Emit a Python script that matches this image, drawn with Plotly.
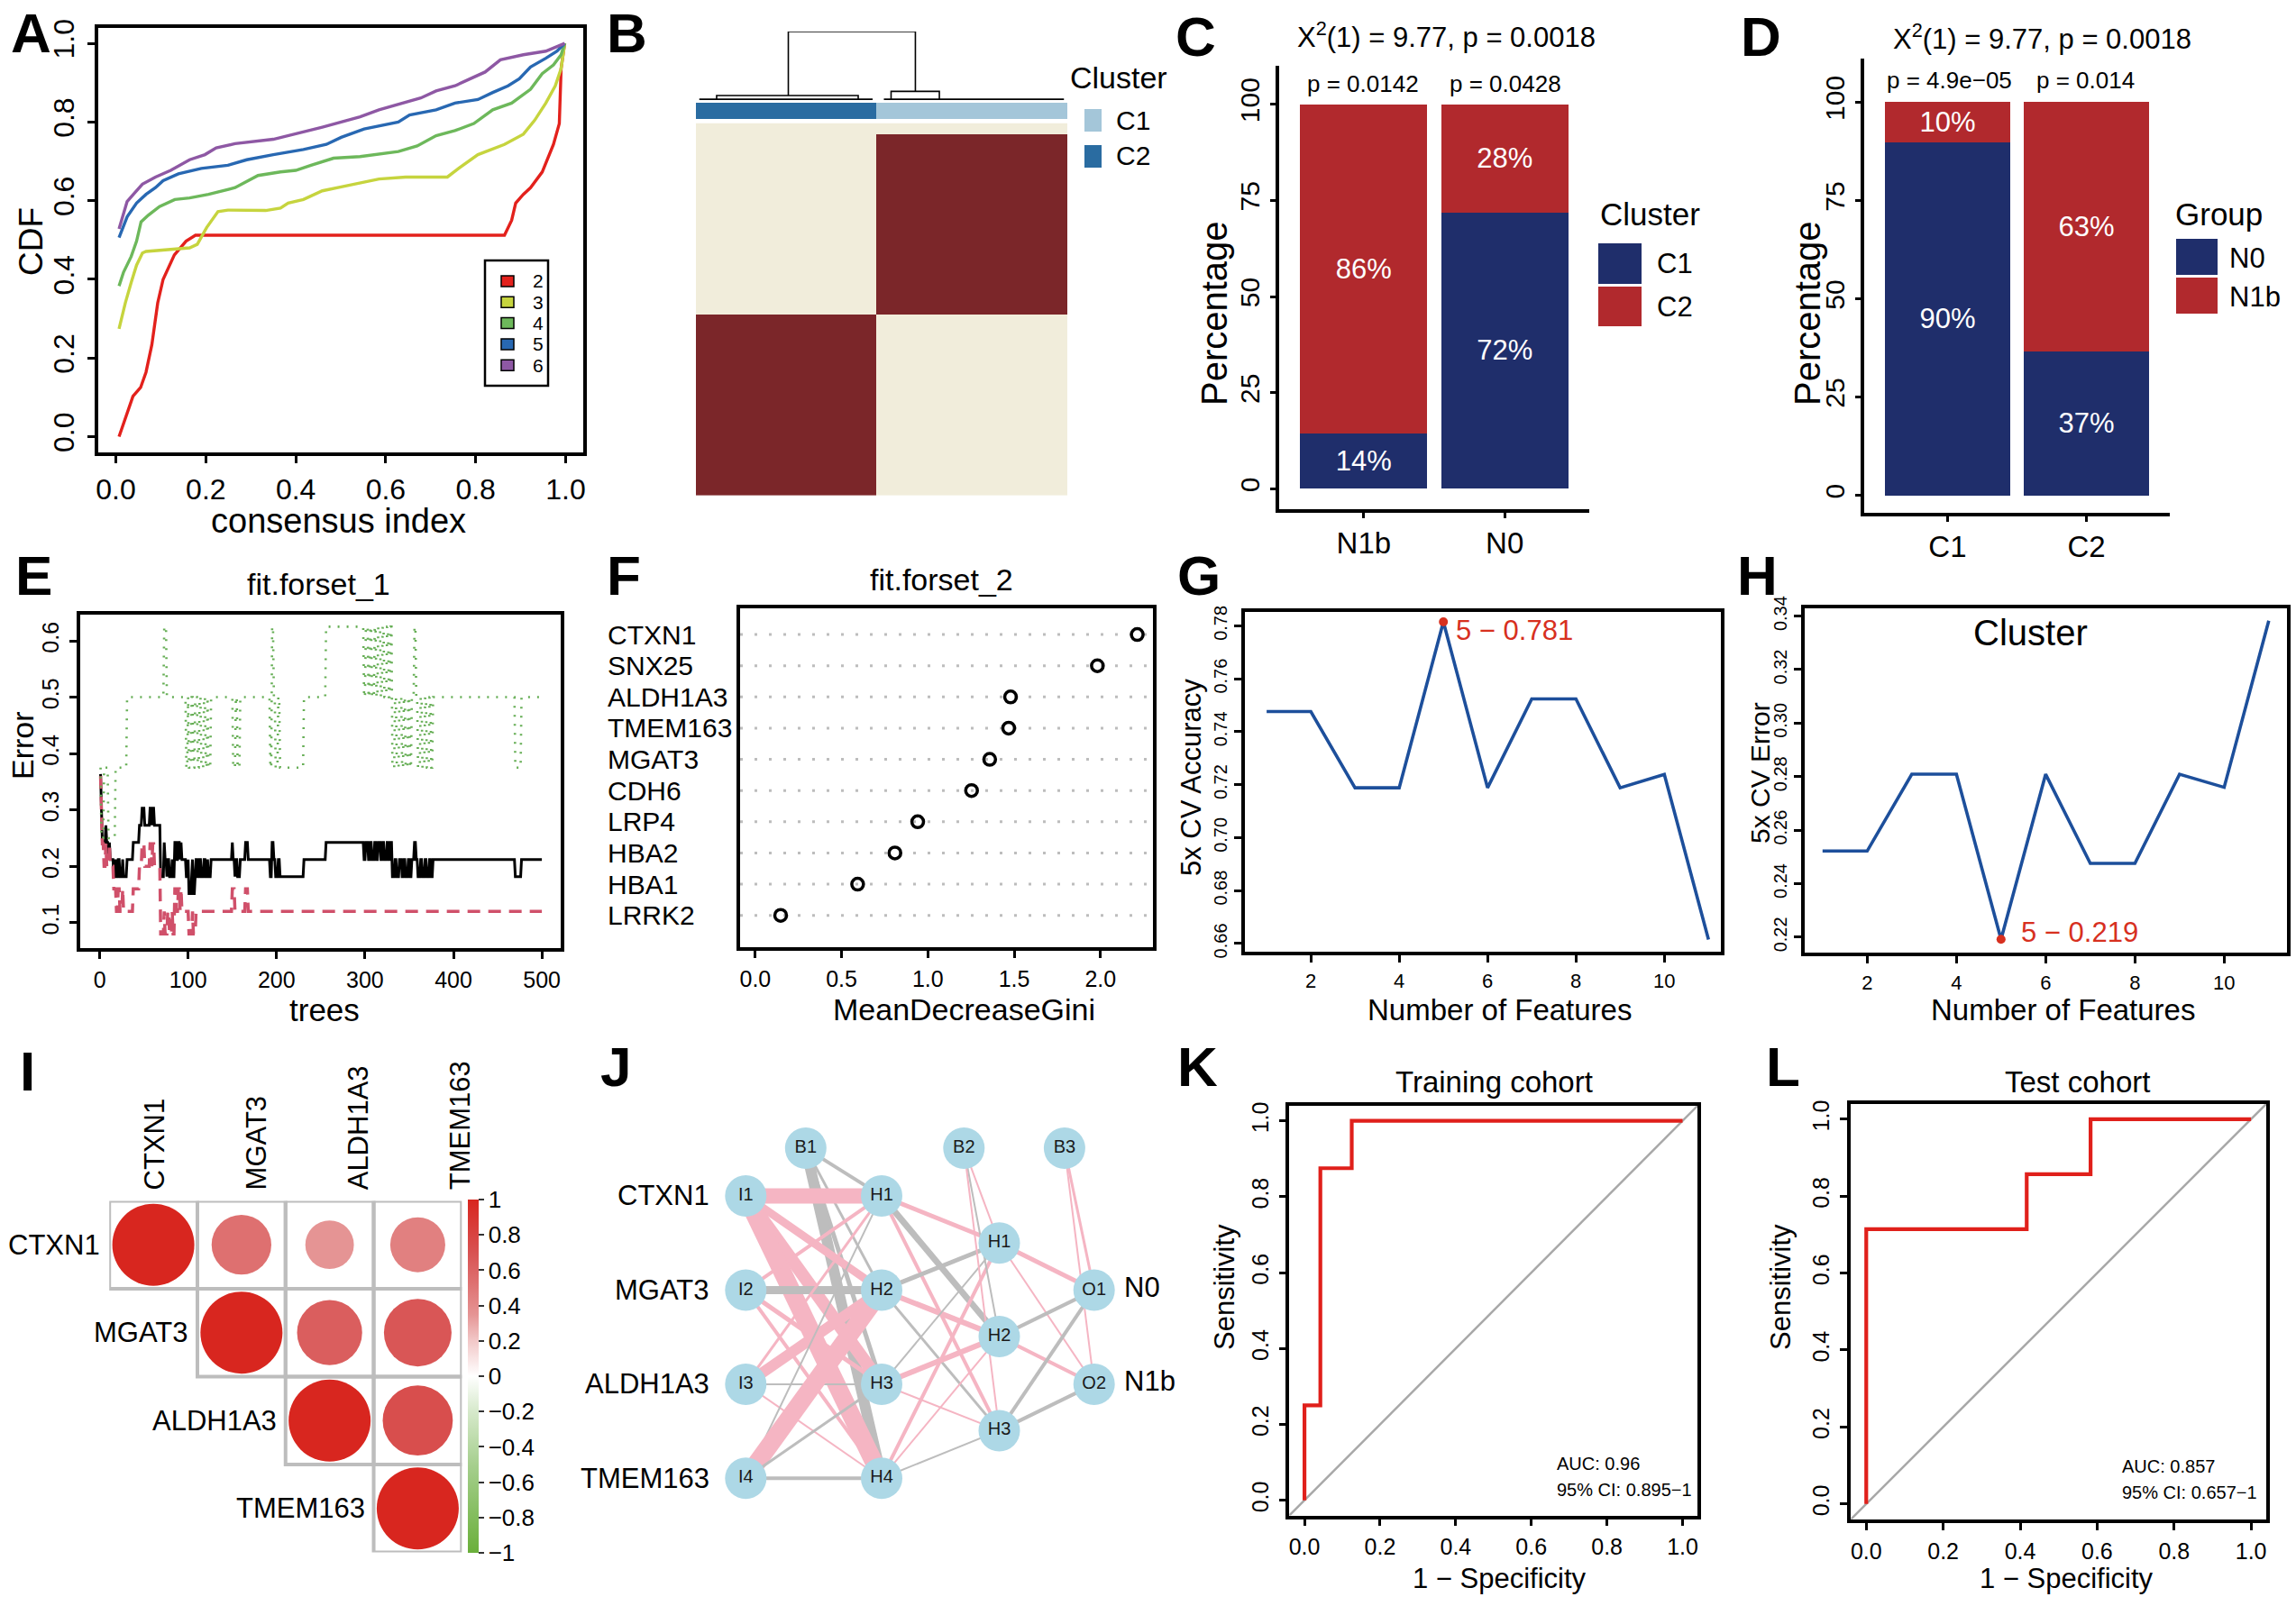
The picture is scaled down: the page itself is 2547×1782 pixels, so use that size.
import plotly.graph_objects as go

W, H = 2547, 1782
FONT = "Liberation Sans"

# ======================= DATA =======================
# A: consensus CDF curves (k = 2..6)
cdf_k = ["2", "3", "4", "5", "6"]
cdf_colors = ["#E3211C", "#C6D43E", "#6DB85B", "#2868B2", "#8E58A4"]
cdf_x_k2 = [0.007, 0.038, 0.055, 0.067, 0.080, 0.093, 0.105, 0.130, 0.156, 0.177, 0.864, 0.880, 0.889, 0.906, 0.922, 0.948, 0.973, 0.986, 0.990, 0.996, 0.998]
cdf_y_k2 = [0.000, 0.103, 0.125, 0.164, 0.234, 0.340, 0.400, 0.462, 0.497, 0.512, 0.512, 0.550, 0.594, 0.616, 0.633, 0.673, 0.743, 0.796, 0.936, 0.989, 1.000]
cdf_x_k3 = [0.007, 0.021, 0.034, 0.046, 0.059, 0.067, 0.164, 0.181, 0.202, 0.227, 0.249, 0.333, 0.366, 0.383, 0.417, 0.459, 0.501, 0.585, 0.644, 0.737, 0.762, 0.805, 0.864, 0.906, 0.931, 0.956, 0.977, 0.990, 0.998]
cdf_y_k3 = [0.274, 0.340, 0.392, 0.436, 0.467, 0.471, 0.480, 0.489, 0.532, 0.572, 0.576, 0.575, 0.581, 0.594, 0.603, 0.625, 0.635, 0.655, 0.660, 0.660, 0.682, 0.717, 0.743, 0.769, 0.804, 0.848, 0.892, 0.936, 1.000]
cdf_x_k4 = [0.007, 0.017, 0.034, 0.046, 0.056, 0.072, 0.097, 0.131, 0.164, 0.206, 0.265, 0.316, 0.366, 0.400, 0.434, 0.484, 0.543, 0.628, 0.670, 0.712, 0.754, 0.796, 0.838, 0.880, 0.922, 0.948, 0.973, 0.990, 0.998]
cdf_y_k4 = [0.383, 0.418, 0.458, 0.497, 0.546, 0.563, 0.585, 0.603, 0.607, 0.616, 0.633, 0.664, 0.673, 0.677, 0.690, 0.708, 0.712, 0.725, 0.739, 0.765, 0.778, 0.796, 0.831, 0.848, 0.883, 0.923, 0.945, 0.971, 1.000]
cdf_x_k5 = [0.007, 0.025, 0.046, 0.067, 0.088, 0.105, 0.139, 0.190, 0.249, 0.291, 0.350, 0.417, 0.468, 0.501, 0.552, 0.628, 0.653, 0.712, 0.754, 0.805, 0.838, 0.872, 0.897, 0.922, 0.956, 0.981, 0.998]
cdf_y_k5 = [0.506, 0.559, 0.594, 0.616, 0.633, 0.651, 0.668, 0.682, 0.690, 0.704, 0.717, 0.730, 0.743, 0.761, 0.782, 0.800, 0.818, 0.831, 0.848, 0.857, 0.875, 0.892, 0.910, 0.940, 0.962, 0.980, 1.000]
cdf_x_k6 = [0.007, 0.025, 0.042, 0.059, 0.088, 0.122, 0.164, 0.198, 0.223, 0.265, 0.350, 0.417, 0.459, 0.501, 0.543, 0.585, 0.636, 0.678, 0.712, 0.754, 0.788, 0.821, 0.855, 0.906, 0.956, 0.998]
cdf_y_k6 = [0.528, 0.598, 0.620, 0.642, 0.660, 0.677, 0.704, 0.717, 0.734, 0.745, 0.756, 0.774, 0.787, 0.800, 0.813, 0.831, 0.848, 0.861, 0.879, 0.892, 0.910, 0.927, 0.958, 0.971, 0.980, 1.000]
cdf_x = [cdf_x_k2, cdf_x_k3, cdf_x_k4, cdf_x_k5, cdf_x_k6]
cdf_y = [cdf_y_k2, cdf_y_k3, cdf_y_k4, cdf_y_k5, cdf_y_k6]

# B: consensus matrix blocks (samples ordered C2 | C1)
b_n_c2 = 16
b_n_c1 = 17
b_rows_top, b_rows_mid, b_rows_bot = 1, 16, 16
b_cluster_names = ["C1", "C2"]
# dendrogram merges: left child x, right child x, height
b_dendro_top = [7.71, 19.0, 1.0]
b_dendro_left = [1.34, 13.92, 0.066]
b_dendro_right = [16.84, 21.13, 0.126]

# C: Cluster composition within N groups
c_groups = ["N1b", "N0"]
c_C1 = [14.3, 71.9]
c_C2 = [85.7, 28.1]
c_lab_C1 = ["14%", "72%"]
c_lab_C2 = ["86%", "28%"]
c_pvals = ["p = 0.0142", "p = 0.0428"]
c_title = "X<sup>2</sup>(1) = 9.77, p = 0.0018"

# D: N group composition within clusters
d_groups = ["C1", "C2"]
d_N0 = [89.8, 36.7]
d_N1b = [10.2, 63.3]
d_lab_N0 = ["90%", "37%"]
d_lab_N1b = ["10%", "63%"]
d_pvals = ["p = 4.9e\u221205", "p = 0.014"]
d_title = "X<sup>2</sup>(1) = 9.77, p = 0.0018"

# E: random forest error by number of trees (run-length encoded: value, count)
e_class_n = [25, 8]
e_red_rle = [(0.36, 1), (0.28, 1), (0.24, 2), (0.20, 2), (0.24, 1), (0.20, 3), (0.24, 1), (0.20, 4),
             (0.16, 3), (0.12, 2), (0.16, 2), (0.12, 3), (0.16, 1), (0.12, 4),
             (0.12, 7), (0.16, 7),
             (0.20, 3), (0.24, 3), (0.20, 6), (0.24, 2), (0.20, 1), (0.24, 2), (0.20, 7),
             (0.08, 4), (0.12, 1), (0.08, 3), (0.12, 2), (0.08, 3), (0.12, 1), (0.08, 2),
             (0.16, 2), (0.12, 2), (0.16, 2), (0.12, 1), (0.16, 1),
             (0.12, 8), (0.08, 4), (0.12, 1), (0.08, 3),
             (0.12, 41), (0.16, 3), (0.12, 12), (0.16, 3), (0.12, 333)]
e_green_rle = [(0.375, 1), (0.25, 3), (0.375, 5), (0.25, 8), (0.375, 13),
               (0.5, 42), (0.625, 3), (0.5, 22),
               (0.375, 2), (0.5, 1), (0.375, 3), (0.5, 2), (0.375, 2), (0.5, 3), (0.375, 2),
               (0.5, 2), (0.375, 3), (0.5, 2), (0.375, 2), (0.5, 1), (0.375, 3),
               (0.5, 25),
               (0.375, 3), (0.5, 2), (0.375, 3), (0.5, 2),
               (0.5, 32),
               (0.375, 2), (0.625, 2), (0.5, 2), (0.375, 3), (0.5, 2), (0.375, 3),
               (0.375, 24), (0.5, 25), (0.625, 43),
               (0.5, 2), (0.625, 3), (0.5, 2), (0.625, 2), (0.5, 3), (0.625, 2), (0.5, 2),
               (0.625, 3), (0.5, 2), (0.625, 2), (0.5, 3), (0.625, 2), (0.5, 2), (0.625, 2),
               (0.375, 3), (0.5, 2), (0.375, 3), (0.5, 3), (0.375, 2), (0.5, 2), (0.375, 3),
               (0.5, 2), (0.375, 2), (0.5, 3), (0.625, 2), (0.5, 2), (0.375, 3), (0.5, 2),
               (0.375, 3), (0.5, 2), (0.375, 3), (0.5, 2), (0.375, 2), (0.5, 2),
               (0.5, 91), (0.375, 7), (0.5, 24)]

# F: variable importance
f_genes = ["CTXN1", "SNX25", "ALDH1A3", "TMEM163", "MGAT3", "CDH6", "LRP4", "HBA2", "HBA1", "LRRK2"]
f_gini = [2.213, 1.982, 1.479, 1.468, 1.358, 1.253, 0.941, 0.809, 0.593, 0.147]

# G / H: 5-fold CV
gh_nfeat = [1, 2, 3, 4, 5, 6, 7, 8, 9, 10, 11]
g_acc = [0.7476, 0.7476, 0.7188, 0.7188, 0.7815, 0.7188, 0.7524, 0.7524, 0.7188, 0.7239, 0.6615]
h_err = [0.2522, 0.2522, 0.2809, 0.2809, 0.2192, 0.2809, 0.2476, 0.2476, 0.2809, 0.2760, 0.3383]
g_best = (5, 0.7815, "5 \u2212 0.781")
h_best = (5, 0.2192, "5 \u2212 0.219")

# I: correlation (upper triangle)
i_genes = ["CTXN1", "MGAT3", "ALDH1A3", "TMEM163"]
i_pairs = [(0, 0, 1.00), (0, 1, 0.53), (0, 2, 0.35), (0, 3, 0.45),
           (1, 1, 1.00), (1, 2, 0.63), (1, 3, 0.68),
           (2, 2, 1.00), (2, 3, 0.73),
           (3, 3, 1.00)]
i_cbar_vals = [-1, -0.8, -0.6, -0.4, -0.2, 0, 0.2, 0.4, 0.6, 0.8, 1]
i_cbar_text = ["\u22121", "\u22120.8", "\u22120.6", "\u22120.4", "\u22120.2", "0", "0.2", "0.4", "0.6", "0.8", "1"]

# J: neural network (sign + weight magnitude of each connection)
j_inputs = ["CTXN1", "MGAT3", "ALDH1A3", "TMEM163"]
j_outputs = ["N0", "N1b"]
j_edges = [("B1", "H1", 4, "-"), ("B1", "H2", 3, "-"), ("B1", "H3", 5, "-"), ("B1", "H4", 12, "-"),
           ("I1", "H1", 17, "+"), ("I1", "H2", 9, "+"), ("I1", "H3", 14, "+"), ("I1", "H4", 20, "+"),
           ("I2", "H1", 4, "+"), ("I2", "H2", 9, "-"), ("I2", "H3", 5, "+"), ("I2", "H4", 4, "+"),
           ("I3", "H1", 3, "+"), ("I3", "H2", 12, "+"), ("I3", "H3", 2, "-"), ("I3", "H4", 2, "+"),
           ("I4", "H1", 2, "-"), ("I4", "H2", 20, "+"), ("I4", "H3", 3, "-"), ("I4", "H4", 4, "-"),
           ("H1", "G1", 5, "+"), ("H1", "G2", 7, "-"), ("H1", "G3", 4, "+"),
           ("H2", "G1", 5, "-"), ("H2", "G2", 6, "+"), ("H2", "G3", 3, "-"),
           ("H3", "G1", 2, "-"), ("H3", "G2", 6, "+"), ("H3", "G3", 2, "+"),
           ("H4", "G1", 4, "+"), ("H4", "G2", 2, "+"), ("H4", "G3", 2, "-"),
           ("B2", "G1", 2, "+"), ("B2", "G2", 2, "-"), ("B2", "G3", 2, "+"),
           ("G1", "O1", 5, "+"), ("G1", "O2", 2, "+"), ("G2", "O1", 4, "-"), ("G2", "O2", 4, "+"),
           ("G3", "O1", 4, "-"), ("G3", "O2", 4, "-"), ("B3", "O1", 3, "+"), ("B3", "O2", 2, "+")]

# K / L: ROC curves
k_fpr = [0, 0, 0.042, 0.042, 0.125, 0.125, 1]
k_tpr = [0, 0.25, 0.25, 0.875, 0.875, 1, 1]
k_auc = ["AUC: 0.96", "95% CI: 0.895\u22121"]
l_fpr = [0, 0, 0.417, 0.417, 0.583, 0.583, 1]
l_tpr = [0, 0.714, 0.714, 0.857, 0.857, 1, 1]
l_auc = ["AUC: 0.857", "95% CI: 0.657\u22121"]

# ======================= HELPERS =======================
traces, annotations, shapes = [], [], []
layout = dict(width=W, height=H, margin=dict(l=0, r=0, t=0, b=0, autoexpand=False),
              paper_bgcolor="white", plot_bgcolor="white", showlegend=False,
              font=dict(family=FONT, color="black"))


def sfx(n):
    return "" if n == 1 else str(n)


def set_axes(n, xpx, ypx, xr, yr, xkw=None, ykw=None):
    base = dict(showgrid=False, zeroline=False, showline=False, ticks="", showticklabels=False,
                fixedrange=True, automargin=False)
    xa = dict(base, domain=[xpx[0] / W, xpx[1] / W], range=xr, anchor="y" + sfx(n))
    ya = dict(base, domain=[1 - ypx[1] / H, 1 - ypx[0] / H], range=yr, anchor="x" + sfx(n))
    xa.update(xkw or {})
    ya.update(ykw or {})
    layout["xaxis" + sfx(n)] = xa
    layout["yaxis" + sfx(n)] = ya


def rbox(vals, text, size, angle=0, mirror=True, lw=3.5, tlen=8, standoff=None):
    d = dict(showline=True, mirror=mirror, linecolor="black", linewidth=lw, ticks="outside",
             ticklen=tlen, tickwidth=2.5, tickcolor="black", showticklabels=True,
             tickmode="array", tickvals=vals, ticktext=text,
             tickfont=dict(size=size, family=FONT, color="black"), tickangle=angle)
    if standoff is not None:
        d["ticklabelstandoff"] = standoff
    return d


def txt(s, x, y, size, xa="center", ya="middle", angle=0, color="black", bold=False,
        xref="paper", yref="paper", xshift=0, yshift=0):
    if xref == "paper":
        x = x / W
    if yref == "paper":
        y = 1 - y / H
    if bold:
        s = "<b>" + s + "</b>"
    annotations.append(dict(text=s, x=x, y=y, xref=xref, yref=yref, xanchor=xa, yanchor=ya,
                            textangle=angle, showarrow=False, xshift=xshift, yshift=yshift,
                            font=dict(size=size, family=FONT, color=color)))


def rect(x0, y0, x1, y1, fill, line=None, lw=0):
    shapes.append(dict(type="rect", xref="paper", yref="paper", x0=x0 / W, x1=x1 / W,
                       y0=1 - y1 / H, y1=1 - y0 / H, fillcolor=fill,
                       line=dict(color=line or fill, width=lw), layer="above"))


def expand(rle):
    out = []
    for v, c in rle:
        out += [v] * c
    return out


def fmt1(v):
    return "%.1f" % v


# ======================= PANEL A =======================
a_ticks = [0, 0.2, 0.4, 0.6, 0.8, 1.0]
set_axes(1, (108.6, 647.4), (30.6, 502), [-0.04, 1.04], [-0.04, 1.04],
         rbox(a_ticks, [fmt1(v) for v in a_ticks], 32, standoff=2),
         rbox(a_ticks, [fmt1(v) for v in a_ticks], 32, angle=-90, standoff=2))
for xs, ys, col in zip(cdf_x, cdf_y, cdf_colors):
    traces.append(go.Scatter(x=xs, y=ys, mode="lines", line=dict(color=col, width=3.4), xaxis="x", yaxis="y",
                             hoverinfo="skip"))
txt("consensus index", 375, 578, 38)
txt("CDF", 35, 268, 37, angle=-90)
rect(538, 289, 608, 428, "rgba(0,0,0,0)", "black", 2.5)
for i, (k, col) in enumerate(zip(cdf_k, cdf_colors)):
    yc = 312 + i * 23.3
    rect(556, yc - 6, 570, yc + 6, col, "black", 1.5)
    txt(k, 589, yc, 21, xa="left")

# ======================= PANEL B =======================
ncol = b_n_c2 + b_n_c1
b_z = []
b_z += [[0] * ncol for _ in range(b_rows_top)]
b_z += [[0] * b_n_c2 + [1] * b_n_c1 for _ in range(b_rows_mid)]
b_z += [[1] * b_n_c2 + [0] * b_n_c1 for _ in range(b_rows_bot)]
nrow = len(b_z)
set_axes(2, (772, 1184), (136.6, 550), [-0.5, ncol - 0.5], [nrow - 0.5, -0.5])
traces.append(go.Heatmap(z=b_z, x=list(range(ncol)), y=list(range(nrow)),
                         colorscale=[[0, "#F1EDDB"], [1, "#7B2629"]], zmin=0, zmax=1,
                         showscale=False, xaxis="x2", yaxis="y2", hoverinfo="skip"))
set_axes(4, (772, 1184), (114, 132), [-0.5, ncol - 0.5], [-0.5, 0.5])
traces.append(go.Heatmap(z=[[1] * b_n_c2 + [0] * b_n_c1], x=list(range(ncol)), y=[0],
                         colorscale=[[0, "#A4C6D9"], [1, "#2A6CA1"]], zmin=0, zmax=1,
                         showscale=False, xaxis="x4", yaxis="y4", hoverinfo="skip"))
set_axes(3, (772, 1184), (35, 111), [-0.5, ncol - 0.5], [0, 1])
leaf_h = 0.012
dx, dy = [], []
lx, rx, hh = b_dendro_top
dx += [lx, lx, rx, rx, None]
dy += [b_dendro_left[2], hh, hh, b_dendro_right[2], None]
for sub in (b_dendro_left, b_dendro_right):
    a, b, h = sub
    dx += [a, a, b, b, None]
    dy += [leaf_h, h, h, leaf_h, None]
dx += [-0.2, b_n_c2 - 0.8, None, b_n_c2 + 0.2, ncol - 0.8, None]
dy += [leaf_h, leaf_h, None, leaf_h, leaf_h, None]
traces.append(go.Scatter(x=dx, y=dy, mode="lines", line=dict(color="black", width=1.6),
                         xaxis="x3", yaxis="y3", hoverinfo="skip", cliponaxis=False))
txt("Cluster", 1185, 86, 34, xa="left")
rect(1203, 121, 1222, 146, "#A4C6D9")
rect(1203, 161, 1222, 186, "#2A6CA1")
txt(b_cluster_names[0], 1236, 133, 30, xa="left")
txt(b_cluster_names[1], 1236, 173, 30, xa="left")

# ======================= PANEL C =======================
NAVY, RED = "#1F2E6B", "#B1292D"
gg_y = dict(showline=True, mirror=False, linecolor="black", linewidth=3.5, ticks="outside", ticklen=6,
            tickwidth=2.5, tickcolor="black", tickmode="array", tickvals=[0, 25, 50, 75, 100],
            ticktext=["0", "25", "50", "75", "100"], tickangle=-90, showticklabels=True,
            tickfont=dict(size=30, family=FONT, color="black"))
gg_x = dict(showline=True, mirror=False, linecolor="black", linewidth=3.5, ticks="outside", ticklen=6,
            tickwidth=2.5, tickcolor="black", showticklabels=True, type="category",
            tickfont=dict(size=33, family=FONT, color="black"))
set_axes(5, (1419, 1763), (73, 565), [-0.6, 1.6], [-5.3, 110], dict(gg_x), dict(gg_y))
tf = dict(color="white", size=31, family=FONT)
traces.append(go.Bar(x=c_groups, y=c_C1, width=0.9, marker=dict(color=NAVY, line=dict(width=0)),
                     text=c_lab_C1, textposition="inside", insidetextanchor="middle", textangle=0,
                     textfont=tf, xaxis="x5", yaxis="y5", hoverinfo="skip"))
traces.append(go.Bar(x=c_groups, y=c_C2, width=0.9, marker=dict(color=RED, line=dict(width=0)),
                     text=c_lab_C2, textposition="inside", insidetextanchor="middle", textangle=0,
                     textfont=tf, xaxis="x5", yaxis="y5", hoverinfo="skip"))
txt(c_pvals[0], 1512, 93, 26)
txt(c_pvals[1], 1670, 93, 26)
txt(c_title, 1604, 39, 31)
txt("Percentage", 1347, 348, 40, angle=-90)
txt("Cluster", 1773, 237, 35, xa="left")
rect(1773, 270, 1821, 315, NAVY)
rect(1773, 318, 1821, 362, RED)
txt("C1", 1836, 292, 31, xa="left")
txt("C2", 1836, 340, 31, xa="left")

# ======================= PANEL D =======================
set_axes(6, (2068, 2407), (65, 569), [-0.6, 1.6], [-4.45, 111.1], dict(gg_x), dict(gg_y))
traces.append(go.Bar(x=d_groups, y=d_N0, width=0.9, marker=dict(color=NAVY, line=dict(width=0)),
                     text=d_lab_N0, textposition="inside", insidetextanchor="middle", textangle=0,
                     textfont=tf, xaxis="x6", yaxis="y6", hoverinfo="skip"))
traces.append(go.Bar(x=d_groups, y=d_N1b, width=0.9, marker=dict(color=RED, line=dict(width=0)),
                     text=d_lab_N1b, textposition="inside", insidetextanchor="middle", textangle=0,
                     textfont=tf, xaxis="x6", yaxis="y6", hoverinfo="skip"))
txt(d_pvals[0], 2162, 89, 26)
txt(d_pvals[1], 2313, 89, 26)
txt(d_title, 2265, 41, 31)
txt("Percentage", 2005, 348, 40, angle=-90)
txt("Group", 2411, 237, 35, xa="left")
rect(2414, 265, 2460, 305, NAVY)
rect(2414, 308, 2460, 348, RED)
txt("N0", 2471, 286, 31, xa="left")
txt("N1b", 2471, 329, 31, xa="left")

# ======================= PANEL E =======================
e_red = expand(e_red_rle)
e_green = expand(e_green_rle)
e_oob = [(e_class_n[0] * r + e_class_n[1] * g) / sum(e_class_n) for r, g in zip(e_red, e_green)]
trees = list(range(1, len(e_red) + 1))
set_axes(7, (89, 621.7), (681.6, 1052), [-22, 521], [0.055, 0.647],
         rbox([0, 100, 200, 300, 400, 500], ["0", "100", "200", "300", "400", "500"], 25, standoff=2),
         rbox([0.1, 0.2, 0.3, 0.4, 0.5, 0.6], ["0.1", "0.2", "0.3", "0.4", "0.5", "0.6"], 25, angle=-90, standoff=2))
traces.append(go.Scatter(x=trees, y=e_oob, mode="lines", line=dict(color="black", width=3),
                         xaxis="x7", yaxis="y7", hoverinfo="skip"))
traces.append(go.Scatter(x=trees, y=e_red, mode="lines", line=dict(color="#D0506A", width=3.5, dash="14px,9px"),
                         xaxis="x7", yaxis="y7", hoverinfo="skip"))
traces.append(go.Scatter(x=trees, y=e_green, mode="lines", line=dict(color="#66AE55", width=2.6, dash="2px,8px"),
                         xaxis="x7", yaxis="y7", hoverinfo="skip"))
txt("fit.forset_1", 353.6, 648, 34)
txt("trees", 360, 1120, 35)
txt("Error", 25, 827, 34, angle=-90)

# ======================= PANEL F =======================
nF = len(f_genes)
f_pos = list(range(nF, 0, -1))
f_xr = [-0.088, 2.304]
set_axes(8, (821, 1279), (675, 1051), f_xr, [-0.02, 10.84],
         rbox([0, 0.5, 1.0, 1.5, 2.0], ["0.0", "0.5", "1.0", "1.5", "2.0"], 25, standoff=2),
         dict(showline=True, mirror=True, linecolor="black", linewidth=3.5))
gx, gy = [], []
for p in f_pos:
    gx += [f_xr[0], f_xr[1], None]
    gy += [p, p, None]
traces.append(go.Scatter(x=gx, y=gy, mode="lines", line=dict(color="#BDBDBD", width=3, dash="3px,13px"),
                         xaxis="x8", yaxis="y8", hoverinfo="skip"))
traces.append(go.Scatter(x=f_gini, y=f_pos, mode="markers",
                         marker=dict(symbol="circle-open", size=13, color="black", line=dict(width=3.5, color="black")),
                         xaxis="x8", yaxis="y8", hoverinfo="skip"))
for g, p in zip(f_genes, f_pos):
    txt(g, 671.6, p, 30, xa="left", yref="y8")
txt("fit.forset_2", 1044, 643, 34)
txt("MeanDecreaseGini", 1069, 1120, 34)

# ======================= PANEL G =======================
BLUE = "#1D4F9B"
set_axes(9, (1380.6, 1909), (678.5, 1056.3), [0.5, 11.28], [0.6568, 0.7854],
         rbox([2, 4, 6, 8, 10], ["2", "4", "6", "8", "10"], 22, standoff=2),
         rbox([0.66, 0.68, 0.70, 0.72, 0.74, 0.76, 0.78], ["0.66", "0.68", "0.70", "0.72", "0.74", "0.76", "0.78"],
              20, angle=-90, standoff=0))
traces.append(go.Scatter(x=gh_nfeat, y=g_acc, mode="lines", line=dict(color=BLUE, width=3.6),
                         xaxis="x9", yaxis="y9", hoverinfo="skip"))
traces.append(go.Scatter(x=[g_best[0]], y=[g_best[1]], mode="markers", marker=dict(color="#D7301F", size=10),
                         xaxis="x9", yaxis="y9", hoverinfo="skip", cliponaxis=False))
txt(g_best[2], g_best[0], g_best[1], 31, xa="left", xref="x9", yref="y9", color="#D7301F", xshift=12, yshift=-10)
txt("5x CV Accuracy", 1321, 862, 31, angle=-90)
txt("Number of Features", 1663, 1120, 33)

# ======================= PANEL H =======================
set_axes(10, (2002, 2536.6), (675, 1057.4), [0.6, 11.4], [0.2141, 0.3429],
         rbox([2, 4, 6, 8, 10], ["2", "4", "6", "8", "10"], 22, standoff=2),
         rbox([0.22, 0.24, 0.26, 0.28, 0.30, 0.32, 0.34], ["0.22", "0.24", "0.26", "0.28", "0.30", "0.32", "0.34"],
              20, angle=-90, standoff=0))
traces.append(go.Scatter(x=gh_nfeat, y=h_err, mode="lines", line=dict(color=BLUE, width=3.6),
                         xaxis="x10", yaxis="y10", hoverinfo="skip"))
traces.append(go.Scatter(x=[h_best[0]], y=[h_best[1]], mode="markers", marker=dict(color="#D7301F", size=10),
                         xaxis="x10", yaxis="y10", hoverinfo="skip", cliponaxis=False))
txt(h_best[2], h_best[0], h_best[1], 31, xa="left", xref="x10", yref="y10", color="#D7301F", xshift=20, yshift=8)
txt("Cluster", 2252, 702, 40)
txt("5x CV Error", 1953, 858, 30, angle=-90)
txt("Number of Features", 2288, 1120, 33)

# ======================= PANEL I =======================
set_axes(11, (121.2, 512.3), (1332.4, 1722.5), [-0.5, 3.5], [3.5, -0.5])
bx, by = [], []
for (r, c, v) in i_pairs:
    bx += [c - 0.5, c + 0.5, c + 0.5, c - 0.5, c - 0.5, None]
    by += [r - 0.5, r - 0.5, r + 0.5, r + 0.5, r - 0.5, None]
traces.append(go.Scatter(x=bx, y=by, mode="lines", line=dict(color="#BDBDBD", width=4),
                         xaxis="x11", yaxis="y11", hoverinfo="skip", cliponaxis=False))
i_full = 91.0
i_cs = [[0.0, "#6AAF3A"], [0.25, "#A6CF8E"], [0.4, "#D6E9CB"], [0.5, "#FFFFFF"], [0.6, "#F2C8C8"],
        [0.675, "#E59494"], [0.765, "#DE7070"], [0.85, "#D85252"], [1.0, "#D8261F"]]
traces.append(go.Scatter(
    x=[c for (r, c, v) in i_pairs], y=[r for (r, c, v) in i_pairs], mode="markers",
    marker=dict(size=[i_full * abs(v) ** 0.5 for (r, c, v) in i_pairs], color=[v for (r, c, v) in i_pairs],
                colorscale=i_cs, cmin=-1, cmax=1, opacity=1, line=dict(width=0), showscale=True,
                colorbar=dict(x=519 / W, xanchor="left", y=1 - 1527 / H, yanchor="middle",
                              len=392, lenmode="pixels", thickness=12, thicknessmode="pixels",
                              xpad=0, ypad=0, outlinewidth=0, ticks="outside", ticklen=6, tickwidth=1.5,
                              tickcolor="#333333", tickmode="array", tickvals=i_cbar_vals, ticktext=i_cbar_text,
                              tickfont=dict(size=26, family=FONT, color="black"))),
    xaxis="x11", yaxis="y11", hoverinfo="skip", cliponaxis=False))
for i, g in enumerate(i_genes):
    txt(g, i - 0.5, i, 31, xa="right", xref="x11", yref="y11", xshift=-8)
i_col_label_x = [0.01, 1.17, 2.33, 3.49]
for g, xc in zip(i_genes, i_col_label_x):
    txt(g, xc, -0.5, 31, ya="bottom", angle=-90, xref="x11", yref="y11", yshift=10)

# ======================= PANEL J =======================
set_axes(12, (640, 1300), (1120, 1782), [640, 1300], [1782, 1120])
j_nodes = {"B1": (893.8, 1274.1), "B2": (1069.3, 1274.1), "B3": (1180.9, 1274.1),
           "I1": (827.3, 1326.9), "I2": (827.3, 1431.6), "I3": (827.3, 1535.9), "I4": (827.3, 1640.2),
           "H1": (978.0, 1326.9), "H2": (978.0, 1431.6), "H3": (978.0, 1535.9), "H4": (978.0, 1640.2),
           "G1": (1108.5, 1379.2), "G2": (1108.5, 1483.1), "G3": (1108.5, 1587.4),
           "O1": (1213.7, 1431.6), "O2": (1213.7, 1535.9)}
j_node_text = {"G1": "H1", "G2": "H2", "G3": "H3"}
for a, b, w, s in j_edges:
    xa_, ya_ = j_nodes[a]
    xb_, yb_ = j_nodes[b]
    traces.append(go.Scatter(x=[xa_, xb_], y=[ya_, yb_], mode="lines",
                             line=dict(color="#F5B5C3" if s == "+" else "#BDBDBD", width=w),
                             xaxis="x12", yaxis="y12", hoverinfo="skip"))
names = list(j_nodes.keys())
traces.append(go.Scatter(x=[j_nodes[n][0] for n in names], y=[j_nodes[n][1] for n in names],
                         mode="markers+text", text=[j_node_text.get(n, n) for n in names],
                         textposition="middle center", textfont=dict(size=20, family=FONT, color="#1a1a1a"),
                         marker=dict(size=46, color="#ADD8E6", line=dict(width=0)),
                         xaxis="x12", yaxis="y12", hoverinfo="skip"))
for i, g in enumerate(j_inputs):
    nx, ny = j_nodes["I%d" % (i + 1)]
    txt(g, 789, ny, 31, xa="right")
for i, g in enumerate(j_outputs):
    nx, ny = j_nodes["O%d" % (i + 1)]
    txt(g, 1245, ny - 3, 31, xa="left")

# ======================= PANEL K / L =======================
roc_ticks = [0, 0.2, 0.4, 0.6, 0.8, 1.0]
roc_text = [fmt1(v) for v in roc_ticks]
roc_range = [-0.04, 1.04]
set_axes(13, (1430.3, 1883.3), (1226.8, 1681.5), roc_range, roc_range,
         rbox(roc_ticks, roc_text, 25, standoff=2), rbox(roc_ticks, roc_text, 25, angle=-90, standoff=2))
set_axes(14, (2053.2, 2514.2), (1224.7, 1685.8), roc_range, roc_range,
         rbox(roc_ticks, roc_text, 25, standoff=2), rbox(roc_ticks, roc_text, 25, angle=-90, standoff=2))
for n, fpr, tpr in ((13, k_fpr, k_tpr), (14, l_fpr, l_tpr)):
    traces.append(go.Scatter(x=roc_range, y=roc_range, mode="lines", line=dict(color="#A8A8A8", width=2.5),
                             xaxis="x%d" % n, yaxis="y%d" % n, hoverinfo="skip"))
    traces.append(go.Scatter(x=fpr, y=tpr, mode="lines", line=dict(color="#E0201B", width=4.2),
                             xaxis="x%d" % n, yaxis="y%d" % n, hoverinfo="skip"))
txt("Training cohort", 1657, 1200, 33)
txt("Test cohort", 2304, 1200, 33)
txt("Sensitivity", 1358, 1428, 31, angle=-90)
txt("Sensitivity", 1975, 1428, 31, angle=-90)
txt("1 \u2212 Specificity", 1663, 1751, 31)
txt("1 \u2212 Specificity", 2292, 1751, 31)
txt(k_auc[0], 1725, 1624, 20, xa="left")
txt(k_auc[1], 1725, 1653, 20, xa="left")
txt(l_auc[0], 2352, 1627, 20, xa="left")
txt(l_auc[1], 2352, 1656, 20, xa="left")

# ======================= PANEL LETTERS =======================
letters = [("A", 10, 36), ("B", 671, 36), ("C", 1302, 40), ("D", 1929, 40),
           ("E", 15, 638), ("F", 671, 638), ("G", 1304, 638), ("H", 1925, 638),
           ("I", 20, 1188), ("J", 664, 1183), ("K", 1304, 1183), ("L", 1957, 1183)]
for s, x, y in letters:
    txt(s, x, y, 62, xa="left", bold=True)

layout["annotations"] = annotations
layout["shapes"] = shapes
layout["barmode"] = "stack"
fig = go.Figure(data=traces, layout=layout)
fig.write_html("out.html", config={"displayModeBar": False},
               post_script="document.body.style.margin='0px';document.body.style.padding='0px';")
